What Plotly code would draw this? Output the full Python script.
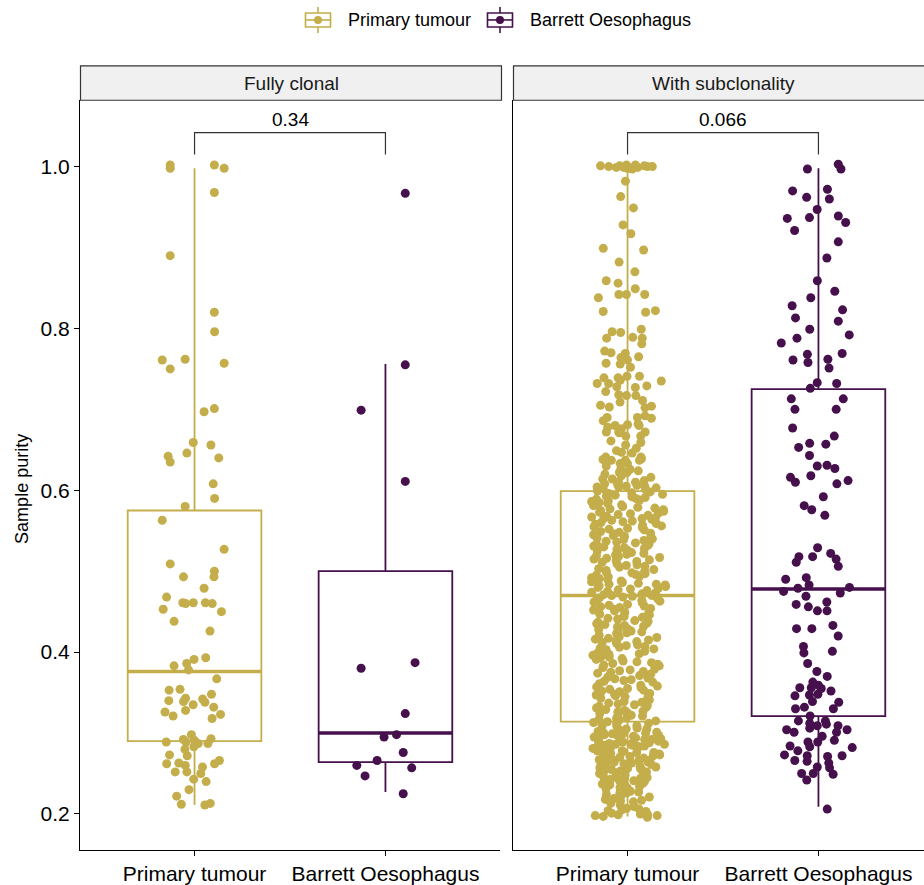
import plotly.graph_objects as go

W, H = 924, 885

panels = ["Fully clonal", "With subclonality"]
groups = ["Primary tumour", "Barrett Oesophagus"]
group_colors = ["#C4AE4B", "#46104C"]
p_values = ["0.34", "0.066"]

# Sample purity per sample
fully_clonal_primary = [
    0.998, 1.002, 0.998, 1.002, 0.968, 0.890, 0.820, 0.796, 0.762, 0.757, 0.761, 0.750,
    0.701, 0.697, 0.659, 0.656, 0.646, 0.642, 0.640, 0.635, 0.608, 0.590, 0.580, 0.563,
    0.527, 0.500, 0.509, 0.493, 0.493, 0.479, 0.468, 0.460, 0.461, 0.461, 0.461, 0.460,
    0.453, 0.450, 0.438, 0.426, 0.386, 0.391, 0.393, 0.383, 0.378, 0.367, 0.353, 0.343,
    0.354, 0.348, 0.339, 0.340, 0.338, 0.342, 0.335, 0.332, 0.328, 0.321, 0.318, 0.323,
    0.326, 0.291, 0.292, 0.287, 0.287, 0.298, 0.289, 0.293, 0.289, 0.283, 0.280, 0.272,
    0.273, 0.258, 0.262, 0.263, 0.262, 0.266, 0.260, 0.252, 0.250, 0.252, 0.240, 0.243,
    0.230, 0.222, 0.213, 0.212, 0.211,
]

fully_clonal_barrett = [
    0.967, 0.755, 0.699, 0.611, 0.380, 0.387, 0.324, 0.295, 0.298, 0.276, 0.266, 0.260,
    0.257, 0.247, 0.225,
]

subclonal_primary = [
    1.001, 0.999, 1.000, 0.998, 1.002, 0.999, 0.997, 1.000, 1.001, 0.998, 1.000, 0.999,
    1.002, 1.001, 0.982, 0.963, 0.949, 0.928, 0.917, 0.899, 0.897, 0.882, 0.870, 0.856,
    0.859, 0.842, 0.838, 0.842, 0.849, 0.842, 0.821, 0.820, 0.822, 0.796, 0.799, 0.795,
    0.788, 0.789, 0.788, 0.781, 0.772, 0.770, 0.765, 0.769, 0.764, 0.761, 0.757, 0.752,
    0.756, 0.741, 0.741, 0.736, 0.729, 0.739, 0.739, 0.732, 0.735, 0.728, 0.727, 0.732,
    0.717, 0.718, 0.722, 0.717, 0.711, 0.705, 0.704, 0.709, 0.703, 0.702, 0.692, 0.681,
    0.682, 0.676, 0.690, 0.689, 0.680, 0.680, 0.672, 0.672, 0.690, 0.686, 0.678, 0.672,
    0.667, 0.659, 0.667, 0.671, 0.661, 0.656, 0.652, 0.637, 0.649, 0.646, 0.647, 0.641,
    0.638, 0.637, 0.637, 0.630, 0.639, 0.633, 0.626, 0.641, 0.633, 0.626, 0.622, 0.614,
    0.616, 0.622, 0.624, 0.610, 0.612, 0.620, 0.614, 0.610, 0.618, 0.605, 0.604, 0.603,
    0.606, 0.604, 0.602, 0.605, 0.608, 0.601, 0.607,
    0.599, 0.598, 0.596, 0.595, 0.594, 0.593, 0.592, 0.591, 0.590, 0.597,
    0.589, 0.588, 0.586, 0.585, 0.584, 0.583, 0.581, 0.580, 0.587, 0.582,
    0.579, 0.577, 0.576, 0.575, 0.574, 0.572, 0.571, 0.570, 0.578, 0.573,
    0.569, 0.568, 0.566, 0.565, 0.564, 0.563, 0.562, 0.561, 0.560, 0.567, 0.565,
    0.559, 0.557, 0.556, 0.554, 0.553, 0.552, 0.551, 0.558, 0.555,
    0.549, 0.548, 0.546, 0.545, 0.543, 0.542, 0.541, 0.540, 0.547, 0.544,
    0.539, 0.537, 0.536, 0.535, 0.533, 0.532, 0.531, 0.538, 0.534, 0.530,
    0.529, 0.528, 0.526, 0.525, 0.524, 0.523, 0.521, 0.520, 0.527, 0.522,
    0.519, 0.517, 0.516, 0.514, 0.513, 0.512, 0.511, 0.518, 0.515,
    0.509, 0.507, 0.506, 0.505, 0.503, 0.502, 0.501, 0.500, 0.508,
    0.499, 0.498, 0.496, 0.495, 0.494, 0.493, 0.491, 0.490, 0.497, 0.492,
    0.489, 0.488, 0.487, 0.485, 0.484, 0.483, 0.482, 0.481, 0.480, 0.486, 0.484,
    0.479, 0.478, 0.477, 0.476, 0.475, 0.473, 0.472, 0.471, 0.470, 0.474, 0.470,
    0.469, 0.468, 0.466, 0.465, 0.463, 0.462, 0.461, 0.467, 0.464,
    0.459, 0.457, 0.456, 0.455, 0.453, 0.452, 0.451, 0.458, 0.454,
    0.449, 0.447, 0.446, 0.444, 0.443, 0.441, 0.448, 0.442,
    0.439, 0.438, 0.436, 0.435, 0.434, 0.432, 0.431, 0.437, 0.433,
    0.429, 0.427, 0.426, 0.424, 0.423, 0.421, 0.428, 0.425,
    0.419, 0.418, 0.416, 0.415, 0.414, 0.412, 0.411, 0.417, 0.413,
    0.409, 0.407, 0.406, 0.404, 0.403, 0.401, 0.408, 0.405,
    0.399, 0.398, 0.396, 0.395, 0.393, 0.392, 0.391, 0.397, 0.394,
    0.389, 0.387, 0.386, 0.384, 0.383, 0.381, 0.388, 0.385,
    0.379, 0.377, 0.376, 0.374, 0.373, 0.371, 0.378, 0.375,
    0.369, 0.368, 0.366, 0.364, 0.363, 0.361, 0.367, 0.365,
    0.359, 0.357, 0.356, 0.355, 0.353, 0.352, 0.351, 0.358, 0.354,
    0.349, 0.347, 0.346, 0.344, 0.343, 0.341, 0.348, 0.345,
    0.339, 0.338, 0.336, 0.335, 0.333, 0.332, 0.331, 0.337, 0.334,
    0.329, 0.327, 0.326, 0.325, 0.323, 0.322, 0.321, 0.328, 0.324,
    0.319, 0.318, 0.316, 0.315, 0.317, 0.314,
    0.313, 0.312, 0.311, 0.309, 0.309, 0.308, 0.306, 0.305, 0.305, 0.304, 0.302, 0.301,
    0.301, 0.300,
    0.299, 0.299, 0.298, 0.297, 0.296, 0.296, 0.295, 0.294, 0.294, 0.293, 0.292, 0.292,
    0.291, 0.290, 0.290, 0.297,
    0.289, 0.289, 0.288, 0.287, 0.287, 0.286, 0.285, 0.285, 0.284, 0.283, 0.283, 0.282,
    0.281, 0.281, 0.280, 0.286, 0.284,
    0.279, 0.278, 0.278, 0.277, 0.276, 0.275, 0.274, 0.274, 0.273, 0.272, 0.271, 0.270,
    0.276, 0.273,
    0.269, 0.268, 0.267, 0.266, 0.265, 0.264, 0.263, 0.262, 0.262, 0.261, 0.260, 0.266,
    0.264,
    0.259, 0.258, 0.257, 0.256, 0.255, 0.254, 0.253, 0.252, 0.251, 0.250, 0.256, 0.253,
    0.249, 0.248, 0.246, 0.245, 0.244, 0.243, 0.242, 0.241, 0.240, 0.247, 0.244,
    0.239, 0.238, 0.236, 0.235, 0.233, 0.232, 0.231, 0.237, 0.234,
    0.229, 0.228, 0.226, 0.225, 0.223, 0.221, 0.227, 0.224,
    0.219, 0.218, 0.216, 0.215, 0.213, 0.217, 0.211,
    0.209, 0.207, 0.206, 0.204, 0.203, 0.201, 0.200, 0.205,
    0.199, 0.198, 0.198, 0.197, 0.196, 0.199,
]

subclonal_barrett = [
    1.003, 0.997, 0.997, 0.970, 0.972, 0.962, 0.960, 0.947, 0.937, 0.936, 0.939, 0.931,
    0.921, 0.907, 0.887, 0.859, 0.846, 0.838, 0.828, 0.823, 0.813, 0.809, 0.799, 0.792,
    0.788, 0.782, 0.768, 0.761, 0.769, 0.762, 0.758, 0.751, 0.732, 0.733, 0.726, 0.713,
    0.713, 0.700, 0.700, 0.677, 0.667, 0.657, 0.653, 0.658, 0.643, 0.630, 0.627, 0.631,
    0.616, 0.618, 0.612, 0.608, 0.610, 0.592, 0.581, 0.569, 0.576, 0.529, 0.518, 0.522,
    0.515, 0.518, 0.506, 0.511, 0.492, 0.490, 0.483, 0.473, 0.475, 0.479, 0.480, 0.469,
    0.462, 0.459, 0.456, 0.451, 0.451, 0.429, 0.433, 0.429, 0.420, 0.401, 0.407, 0.399,
    0.386, 0.370, 0.376, 0.363, 0.355, 0.352, 0.347, 0.356, 0.359, 0.356, 0.346, 0.348,
    0.339, 0.338, 0.332, 0.330, 0.330, 0.321, 0.315, 0.306, 0.309, 0.311, 0.309, 0.304,
    0.301, 0.315, 0.312, 0.304, 0.296, 0.301, 0.291, 0.284, 0.289, 0.282, 0.278, 0.271,
    0.289, 0.283, 0.273, 0.265, 0.263, 0.272, 0.272, 0.266, 0.258, 0.249, 0.250, 0.242,
    0.250, 0.257, 0.206,
]

samples = [
    [fully_clonal_primary, fully_clonal_barrett],
    [subclonal_primary, subclonal_barrett],
]

# Box-plot summaries: rows = panels, columns = groups
box_q1 = [[0.290, 0.264], [0.314, 0.321]]
box_median = [[0.376, 0.300], [0.470, 0.478]]
box_q3 = [[0.575, 0.500], [0.599, 0.725]]
box_lower = [[0.211, 0.227], [0.197, 0.209]]
box_upper = [[0.998, 0.756], [1.000, 0.998]]

FONT = "Liberation Sans, Arial, Helvetica, sans-serif"
BOX_WIDTH = 0.7
PX_PER_UNIT = 420 / 2.2  # panel width over the discrete axis span


def purity_bands(values, step=0.1):
    """Group samples into purity bands so each band gets its own jitter scaling."""
    bands = {}
    for v in values:
        key = min(int(v / step + 1e-9), int(1 / step))
        bands.setdefault(key, []).append(v)
    return [bands[k] for k in sorted(bands)]


fig = go.Figure()

for pi, panel in enumerate(panels):
    xa = "x" if pi == 0 else "x2"
    ya = "y" if pi == 0 else "y2"
    for gi, group in enumerate(groups):
        pos = gi + 1
        col = group_colors[gi]
        # box with whiskers
        fig.add_trace(go.Box(
            x=[pos], q1=[box_q1[pi][gi]], median=[box_median[pi][gi]], q3=[box_q3[pi][gi]],
            lowerfence=[box_lower[pi][gi]], upperfence=[box_upper[pi][gi]],
            width=BOX_WIDTH, whiskerwidth=0, boxpoints=False,
            line=dict(color=col, width=1.8), fillcolor="rgba(255,255,255,0)",
            xaxis=xa, yaxis=ya, showlegend=False, hoverinfo="skip",
        ))
        # thicker median bar
        fig.add_trace(go.Scatter(
            x=[pos - BOX_WIDTH / 2, pos + BOX_WIDTH / 2],
            y=[box_median[pi][gi]] * 2,
            mode="lines", line=dict(color=col, width=3.6),
            xaxis=xa, yaxis=ya, showlegend=False, hoverinfo="skip",
        ))
    for gi, group in enumerate(groups):
        pos = gi + 1
        col = group_colors[gi]
        # jittered sample points, one invisible box per purity band
        for band in purity_bands(samples[pi][gi]):
            fig.add_trace(go.Box(
                y=band, x0=pos, width=0.4,
                boxpoints="all", jitter=1.0, pointpos=0,
                marker=dict(color=col, size=9, line=dict(width=0)),
                line=dict(color="rgba(0,0,0,0)", width=0),
                fillcolor="rgba(0,0,0,0)", whiskerwidth=0,
                xaxis=xa, yaxis=ya, showlegend=False, hoverinfo="skip",
            ))

# significance brackets
bracket_low, bracket_high = 1.015, 1.042
shapes = []
annotations = []
for pi, pv in enumerate(p_values):
    xr = "x" if pi == 0 else "x2"
    yr = "y" if pi == 0 else "y2"
    shapes.append(dict(
        type="path", xref=xr, yref=yr,
        path=f"M 1,{bracket_low} L 1,{bracket_high} L 2,{bracket_high} L 2,{bracket_low}",
        line=dict(color="#333333", width=1.2),
    ))
    annotations.append(dict(
        x=1.5, y=bracket_high + 0.016, xref=xr, yref=yr, text=pv, showarrow=False,
        font=dict(family=FONT, size=19, color="black"), xanchor="center", yanchor="middle",
    ))

# facet strips
strip_top, strip_bottom = 66, 100.5
strip_x = [(80.5, 501.5), (513.5, 933.5)]
for (x0, x1), panel in zip(strip_x, panels):
    shapes.append(dict(
        type="rect", xref="paper", yref="paper",
        x0=x0 / W, x1=x1 / W, y0=1 - strip_bottom / H, y1=1 - strip_top / H,
        fillcolor="#F0F0F0", line=dict(color="#333333", width=1.2), layer="below",
    ))
    annotations.append(dict(
        x=(x0 + x1) / 2 / W,
        y=1 - (strip_top + strip_bottom) / 2 / H,
        xref="paper", yref="paper", text=panel, showarrow=False,
        font=dict(family=FONT, size=19, color="#1A1A1A"), xanchor="center", yanchor="middle",
    ))


def py(v):
    return 1 - v / H


# legend keys drawn in ggplot style
legend_keys = [(305.5, 346), (487.5, 528)]
for (kx, tx), group, col in zip(legend_keys, groups, group_colors):
    cx = kx + 12.5
    shapes.append(dict(type="line", xref="paper", yref="paper", x0=cx / W, x1=cx / W,
                       y0=py(7), y1=py(33), line=dict(color=col, width=1.6)))
    shapes.append(dict(type="rect", xref="paper", yref="paper", x0=kx / W, x1=(kx + 25) / W,
                       y0=py(27), y1=py(13), fillcolor="white", line=dict(color=col, width=1.6)))
    shapes.append(dict(type="line", xref="paper", yref="paper", x0=kx / W, x1=(kx + 25) / W,
                       y0=py(20), y1=py(20), line=dict(color=col, width=1.6)))
    shapes.append(dict(type="circle", xref="paper", yref="paper", x0=(cx - 4) / W, x1=(cx + 4) / W,
                       y0=py(24), y1=py(16), fillcolor=col, line=dict(color=col, width=0)))
    annotations.append(dict(
        x=tx / W, y=py(20), xref="paper", yref="paper", text=group, showarrow=False,
        font=dict(family=FONT, size=18, color="black"), xanchor="left", yanchor="middle",
    ))

# y-axis title
annotations.append(dict(
    x=22 / W, y=py(490), xref="paper", yref="paper", text="Sample purity",
    showarrow=False, textangle=-90, font=dict(family=FONT, size=18, color="black"),
    xanchor="center", yanchor="middle",
))

y_range = [1 - (852 - 167) / 811, 1 + (167 - 100) / 811]
y_domain = [1 - 852 / H, 1 - 100 / H]
tick_vals = [0.2, 0.4, 0.6, 0.8, 1.0]
tick_text = ["0.2", "0.4", "0.6", "0.8", "1.0"]

common_x = dict(
    tickvals=[1, 2], ticktext=groups, ticks="outside", ticklen=5, tickwidth=1.2,
    tickcolor="black", showline=True, linecolor="black", linewidth=1.2,
    showgrid=False, zeroline=False, tickfont=dict(family=FONT, size=21, color="black"),
    fixedrange=True,
)

fig.update_layout(
    width=W, height=H, margin=dict(l=0, r=0, t=0, b=0),
    paper_bgcolor="white", plot_bgcolor="white",
    boxmode="overlay", showlegend=False, hovermode=False,
    xaxis=dict(domain=[80 / W, 500 / W], range=[0.4, 2.6], anchor="y", **common_x),
    xaxis2=dict(domain=[513 / W, 1], range=[0.4, 0.4 + (W - 513) / PX_PER_UNIT], anchor="y2", **common_x),
    yaxis=dict(domain=y_domain, range=y_range, tickvals=tick_vals, ticktext=tick_text,
               ticks="outside", ticklen=5, tickwidth=1.2, tickcolor="black",
               showline=True, linecolor="black", linewidth=1.2, showgrid=False, zeroline=False,
               tickfont=dict(family=FONT, size=21, color="black"), anchor="x", fixedrange=True),
    yaxis2=dict(domain=y_domain, range=y_range, matches="y", showticklabels=False,
                ticks="", showline=True, linecolor="black", linewidth=1.2, showgrid=False,
                zeroline=False, anchor="x2", fixedrange=True),
    shapes=shapes, annotations=annotations,
)

fig.write_html("out.html")
